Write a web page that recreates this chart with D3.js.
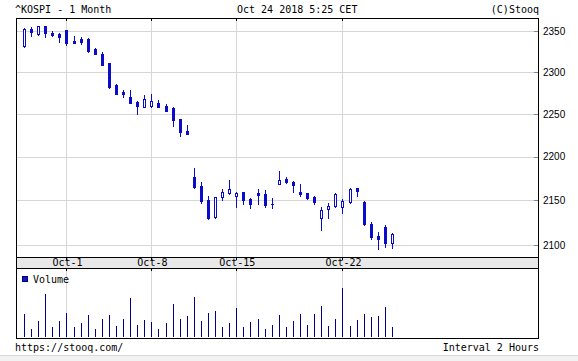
<!DOCTYPE html>
<html>
<head>
<meta charset="utf-8">
<script src="https://cdn.jsdelivr.net/npm/d3@7/dist/d3.min.js"></script>
<style>
  html, body { margin: 0; padding: 0; background: #fff; }
  svg { display: block; }
  .mono { font-family: "DejaVu Sans Mono", monospace; font-size: 10px; fill: #000; }
  .num { font-family: "Liberation Sans", Arial, sans-serif; font-size: 10px; fill: #000; }
</style>
</head>
<body>
<svg id="chart" width="578" height="361"></svg>
<script>
// ---------- DATA ----------
const days = ["Sep-27","Sep-28","Oct-1","Oct-2","Oct-4","Oct-5","Oct-8","Oct-10","Oct-11","Oct-12",
              "Oct-15","Oct-16","Oct-17","Oct-18","Oct-19","Oct-22","Oct-23","Oct-24"];
const barsPerDay = 3;
const tickLabels = ["Oct-1","Oct-8","Oct-15","Oct-22"];
const priceTicks = [2100, 2150, 2200, 2250, 2300, 2350];

const open = [2331,2352.5,2346.3,2356.2,2348,2346.3,2351.2,2337.7,2339.8,2339.8,
  2327.6,2321.9,2310.6,2284,2276,2270,2264.3,2258.5,2259.7,2263,
  2258.8,2256.5,2243.6,2229.8,2176.6,2166.7,2150.5,2131.8,2153.5,2158,
  2155.3,2159.3,2151.7,2158.8,2157.3,2146,2168.7,2174,2171.3,2160,
  2158.1,2153.5,2130.6,2140,2143.8,2143,2147.9,2163.8,2147.9,2123.5,
  2110.3,2119.9,2102.2];
const high = [2353.3,2355,2356.2,2356.2,2350,2347,2351.2,2343.8,2343,2341,
  2329.6,2324.6,2310.6,2285,2278,2278,2265,2272.3,2274,2266,
  2262,2258,2243.6,2236.5,2187,2171.3,2155,2154,2162.6,2173,
  2160,2160,2153,2163,2162.2,2152.3,2183.8,2176.3,2172,2168.4,
  2158.8,2155,2143,2147.5,2158.8,2151.3,2163.8,2164.5,2149.2,2126.1,
  2114.7,2122.5,2113.3];
const low = [2330.7,2344.2,2345,2343,2344,2337,2333,2334.8,2333.6,2324.5,
  2321.5,2308.6,2281,2273.5,2270,2262.3,2250,2258.5,2257.7,2258.5,
  2253,2236,2224,2226,2164.5,2146.8,2129,2130,2150.5,2157,
  2143,2146,2141.8,2146,2142.2,2141,2168.7,2169.5,2160,2155.3,
  2151.7,2146,2117,2130.6,2143,2135.5,2147.5,2155.3,2122.5,2106.6,
  2095.6,2097.8,2096.7];
const close = [2352.5,2348.4,2356.2,2347.2,2345,2343,2335,2335.6,2336.9,2325.7,
  2321.9,2308.6,2282,2273.5,2273.5,2262.3,2259.6,2267.5,2265.4,2258.5,
  2253,2243,2228.4,2226.7,2165,2149.7,2130,2153.5,2160,2162.6,
  2158.8,2150.5,2145.6,2156,2144.8,2146,2173.2,2170.6,2167.6,2157,
  2152.4,2147.9,2139.2,2143.8,2157.3,2149.7,2163,2161.1,2123.2,2109.5,
  2106.6,2102.8,2112.1];
const volume = [22.7,8.3,15.7,42.7,10.3,15.7,23.7,9.7,13.7,21.7,
  8.3,17.7,21.7,10.7,17.7,38.7,11.7,16.7,14.7,7.7,
  13.7,32.7,17.7,20.7,39.7,15.7,23.7,25.7,9.7,13.7,
  28.7,9.7,15,17.7,7.7,11.7,21.7,9.7,15.7,22.7,
  11.7,22.7,30.7,10.7,17.7,48.7,10.7,16.7,22.7,19.7,
  20.7,29.7,9.7];

// ---------- LAYOUT ----------
const L = 16, R = 538;
const mainTop = 18, mainBot = 257;
const bandTop = 257, bandBot = 268;
const volTop = 268, volBot = 338;

const svg = d3.select("#chart");
const bars = open.map((o, i) => ({i, o, h: high[i], l: low[i], c: close[i], v: volume[i]}));

const x = d3.scaleLinear().domain([-1.13, 72.63]).range([L, R]);
const y = d3.scaleLog().domain([2087.1, 2366.1]).range([mainBot, mainTop]);
const vy = d3.scaleLinear().domain([0, 68]).range([volBot - 1, volTop + 1]);
const px = i => Math.round(x(i)) + 0.5;

const tickIdx = tickLabels.map(t => days.indexOf(t) * barsPerDay);

const candleColor = "#0b0bcc";
const volColor = "#000088";
const gridColor = "#d6d6d6";

// ---------- MAIN PANEL ----------
svg.append("rect").attr("x", L + 0.5).attr("y", mainTop + 0.5)
  .attr("width", R - L).attr("height", mainBot - mainTop).attr("fill", "#fff");

const gGrid = svg.append("g").attr("shape-rendering", "crispEdges");
gGrid.selectAll("line.h").data(priceTicks).join("line")
  .attr("x1", L).attr("x2", R)
  .attr("y1", d => Math.round(y(d)) + 0.5).attr("y2", d => Math.round(y(d)) + 0.5)
  .attr("stroke", gridColor);
gGrid.selectAll("line.v").data(tickIdx).join("line")
  .attr("x1", d => px(d)).attr("x2", d => px(d))
  .attr("y1", mainTop).attr("y2", mainBot)
  .attr("stroke", gridColor);
gGrid.selectAll("line.vv").data(tickIdx).join("line")
  .attr("x1", d => px(d)).attr("x2", d => px(d))
  .attr("y1", volTop).attr("y2", volBot)
  .attr("stroke", gridColor);

// right axis via d3.axisRight
const yAxis = d3.axisRight(y).tickValues(priceTicks).tickSize(0).tickPadding(5).tickFormat(d3.format("d"));
const gy = svg.append("g").attr("transform", `translate(${R},0)`).call(yAxis);
gy.select(".domain").remove();
gy.selectAll("text").attr("class", "num").attr("font-family", null).attr("font-size", null);
svg.append("g").attr("shape-rendering", "crispEdges").selectAll("line").data(priceTicks).join("line")
  .attr("x1", R - 4).attr("x2", R)
  .attr("y1", d => Math.round(y(d)) + 0.5).attr("y2", d => Math.round(y(d)) + 0.5)
  .attr("stroke", "#888");

// candles
const gC = svg.append("g").attr("shape-rendering", "crispEdges");
gC.selectAll("line.wick").data(bars).join("line")
  .attr("x1", d => px(d.i)).attr("x2", d => px(d.i))
  .attr("y1", d => Math.round(y(d.h))).attr("y2", d => Math.round(y(d.l)) + 1)
  .attr("stroke", candleColor);
gC.selectAll("rect.body").data(bars).join("rect")
  .each(function(d) {
    const top = Math.round(y(Math.max(d.o, d.c)));
    const bot = Math.round(y(Math.min(d.o, d.c)));
    const sel = d3.select(this);
    if (d.c > d.o) {
      sel.attr("x", px(d.i) - 1).attr("width", 2)
         .attr("y", top + 0.5).attr("height", Math.max(1, bot - top))
         .attr("fill", "#fff").attr("stroke", candleColor);
    } else {
      sel.attr("x", px(d.i) - 1.5).attr("width", 3)
         .attr("y", top).attr("height", Math.max(1, bot - top + 1))
         .attr("fill", candleColor);
    }
  });

// ---------- DATE BAND ----------
svg.append("rect").attr("x", L).attr("y", bandTop).attr("width", R - L).attr("height", bandBot - bandTop)
  .attr("fill", "#e8e8e8");
const xAxis = d3.axisBottom(x).tickValues(tickIdx).tickSize(0).tickPadding(0)
  .tickFormat((d, k) => tickLabels[k]);
const gx = svg.append("g").attr("transform", `translate(0.5,${bandTop})`).call(xAxis);
gx.select(".domain").remove();
gx.selectAll("text").attr("class", "mono").attr("font-family", null).attr("font-size", null)
  .attr("y", 9).attr("dy", 0);

// ---------- VOLUME ----------
svg.append("g").attr("shape-rendering", "crispEdges").selectAll("line").data(bars).join("line")
  .attr("x1", d => px(d.i)).attr("x2", d => px(d.i))
  .attr("y1", vy(0)).attr("y2", d => Math.round(vy(d.v)))
  .attr("stroke", volColor);
svg.append("rect").attr("x", 22.5).attr("y", 276.5).attr("width", 5).attr("height", 5)
  .attr("fill", "#1515d0").attr("stroke", "#000080").attr("shape-rendering", "crispEdges");
svg.append("text").attr("class", "mono").attr("x", 33).attr("y", 283).text("Volume");

// ---------- FRAMES & TICKS ----------
const gF = svg.append("g").attr("fill", "none").attr("stroke", "#000").attr("shape-rendering", "crispEdges");
gF.append("rect").attr("x", L + 0.5).attr("y", mainTop + 0.5).attr("width", R - L).attr("height", volBot - mainTop);
gF.append("line").attr("x1", L).attr("x2", R).attr("y1", bandTop + 0.5).attr("y2", bandTop + 0.5);
gF.append("line").attr("x1", L).attr("x2", R).attr("y1", bandBot + 0.5).attr("y2", bandBot + 0.5);
[mainTop, bandTop, bandBot].forEach(yy => {
  gF.selectAll(null).data(tickIdx).join("line")
    .attr("x1", d => px(d)).attr("x2", d => px(d))
    .attr("y1", yy).attr("y2", yy + 3);
});

// ---------- HEADER / FOOTER ----------
svg.append("text").attr("class", "mono").attr("x", 15).attr("y", 13).text("^KOSPI - 1 Month");
svg.append("text").attr("class", "mono").attr("x", 237).attr("y", 13).text("Oct 24 2018 5:25 CET");
svg.append("text").attr("class", "mono").attr("x", 539).attr("y", 13).attr("text-anchor", "end").text("(C)Stooq");
svg.append("text").attr("class", "mono").attr("x", 15).attr("y", 351).text("https://stooq.com/");
svg.append("text").attr("class", "mono").attr("x", 539).attr("y", 351).attr("text-anchor", "end").text("Interval 2 Hours");

svg.append("rect").attr("x", 0).attr("y", 355).attr("width", 578).attr("height", 6).attr("fill", "#f2f2f2");
svg.append("line").attr("x1", 0).attr("x2", 578).attr("y1", 355.5).attr("y2", 355.5)
  .attr("stroke", "#d8d8d8").attr("shape-rendering", "crispEdges");
</script>
</body>
</html>
